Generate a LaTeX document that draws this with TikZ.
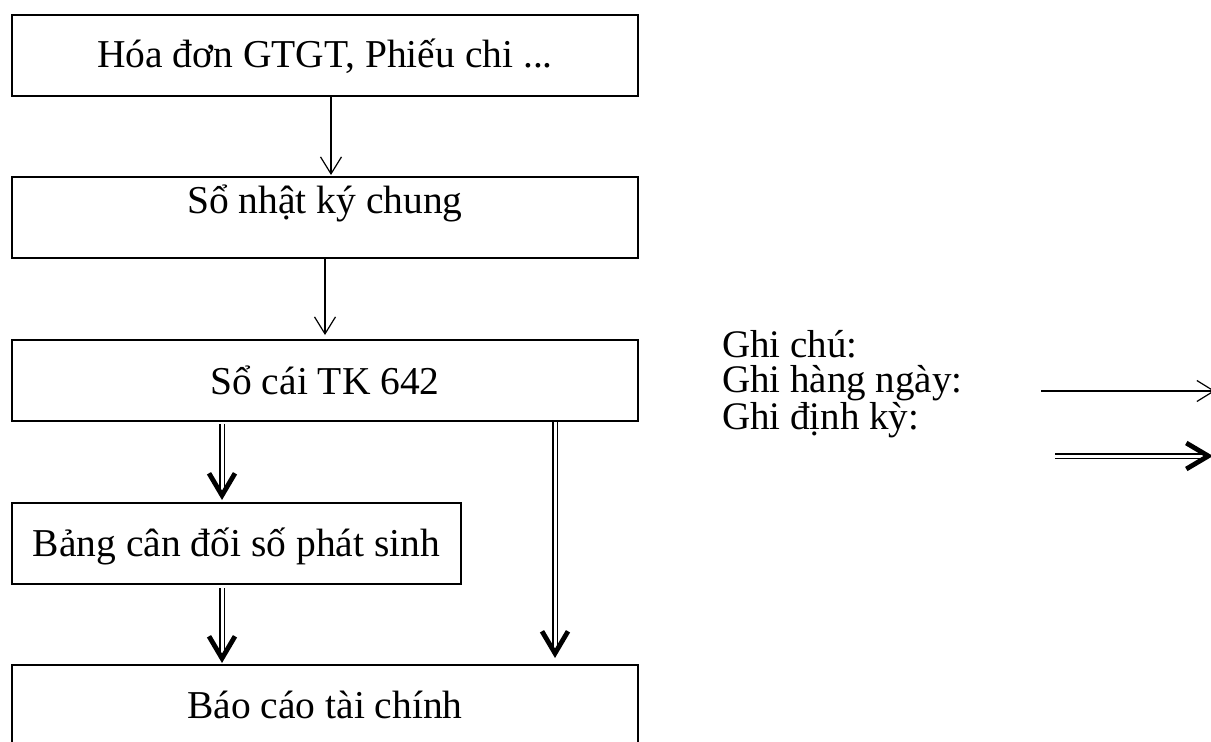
\documentclass[tikz,border=0pt]{standalone}
\usepackage{fontspec}
\setmainfont{Liberation Serif}
\usetikzlibrary{arrows.meta,calc}
\begin{document}
\begin{tikzpicture}[x=1pt,y=1pt,
  flowbox/.style={draw, line width=1.4pt, inner sep=0pt, outer sep=0pt, anchor=north west,
    minimum height=81pt, font=\fontsize{39.5}{46}\selectfont, text depth=0pt},
  legendtext/.style={inner sep=0pt, outer sep=0pt, anchor=base west, align=left,
    font=\fontsize{39}{35}\selectfont},
  thinarrow/.style={line width=1.2pt, -{Straight Barb[length=17pt,width=21pt,line width=1.2pt]}},
  shaft/.style={line width=1.9pt, double, double distance=3pt},
  heavytip/.style={line width=0.1pt, -{Straight Barb[length=22pt,width=26pt,line width=4.8pt]}},
]
\useasboundingbox (0,0) rectangle (1211,-742);
\fill[white] (0,0) rectangle (1211,-742);

% boxes
\node[flowbox, minimum width=626pt, text height=23.6pt] (b1) at (12,-15) {Hóa đơn GTGT, Phiếu chi ...};
\node[flowbox, minimum width=626pt, text height=0pt, text depth=8.4pt] (b2) at (12,-177) {Sổ nhật ký chung};
\node[flowbox, minimum width=626pt, text height=27.6pt] (b3) at (12,-340) {Sổ cái TK 642};
\node[flowbox, minimum width=449pt, text height=26.4pt] (b4) at (12,-503) {Bảng cân đối số phát sinh};
\node[flowbox, minimum width=626pt, text height=25pt] (b5) at (12,-665) {Báo cáo tài chính};

% daily (thin) arrows
\draw[thinarrow] ($(b1.south west)+(319,0)$) -- ($(b2.north west)+(319,2)$);
\draw[thinarrow] ($(b2.south west)+(313,0)$) -- ($(b3.north west)+(313,5)$);

% periodic (double) arrows
\coordinate (a1s) at ($(b3.south west)+(210,-3)$);
\coordinate (a1e) at ($(b4.north west)+(210,3)$);
\coordinate (a2s) at ($(b4.south west)+(210,-4)$);
\coordinate (a2e) at ($(b5.north west)+(210,2)$);
\coordinate (a3s) at ($(b3.south west)+(543,-1)$);
\coordinate (a3e) at ($(b5.north west)+(543,7)$);
\foreach \s/\e in {a1s/a1e, a2s/a2e, a3s/a3e}{
  \draw[shaft] (\s) -- ($(\e)+(0,6)$);
  \draw[heavytip] ($(\e)+(0,1)$) -- (\e);
}

% legend
\node[legendtext] (legend) at (722,-429) {Ghi chú:\\Ghi hàng ngày:\\Ghi định kỳ:};
\coordinate (l1s) at (1041,-391);
\coordinate (l1e) at (1215,-391);
\draw[thinarrow] (l1s) -- (l1e);
\coordinate (l2s) at (1055,-456);
\coordinate (l2e) at (1213,-456);
\draw[shaft] (l2s) -- ($(l2e)+(-6,0)$);
\draw[heavytip] ($(l2e)+(-1,0)$) -- (l2e);
\end{tikzpicture}
\end{document}
